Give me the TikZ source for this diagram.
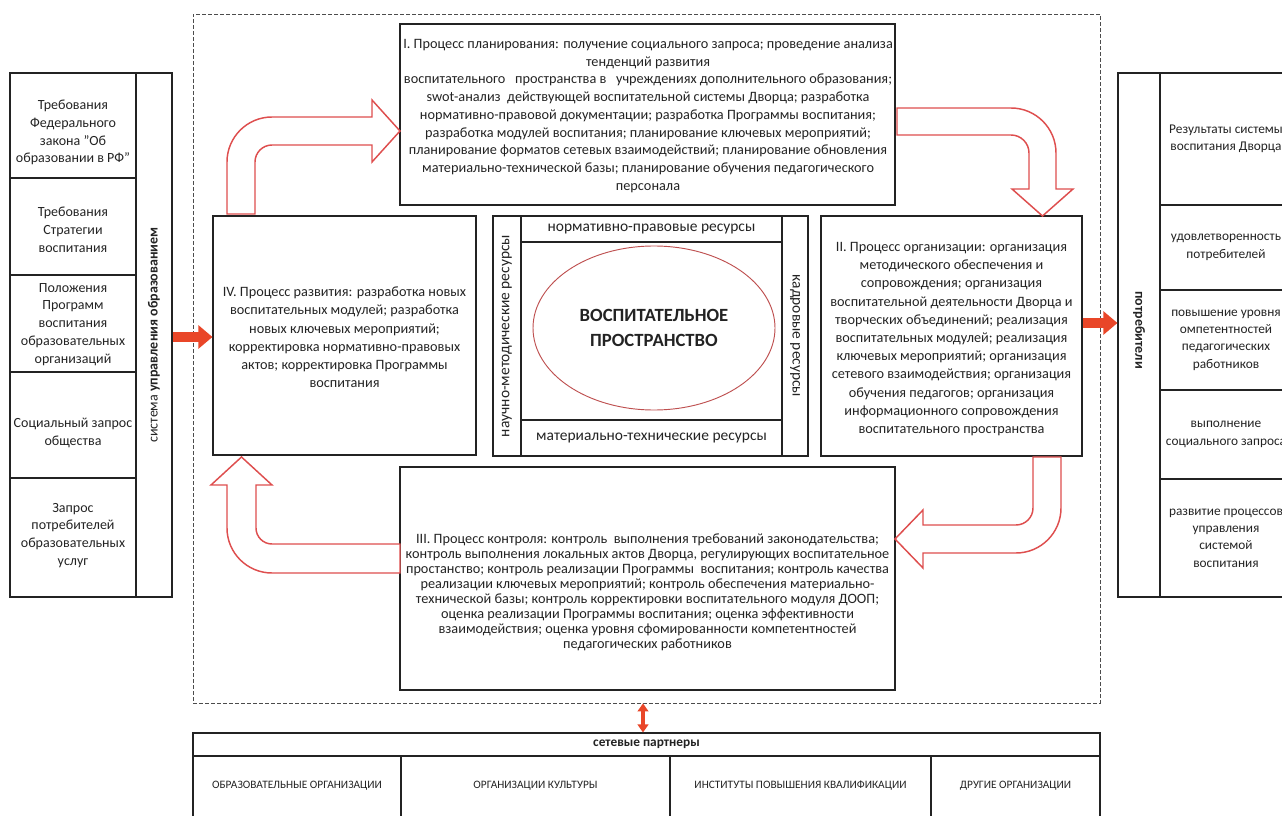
\documentclass[tikz,border=0pt]{standalone}
\usepackage{fontspec}
\setmainfont{Carlito}
\usetikzlibrary{arrows.meta,shapes.geometric}
\definecolor{arrred}{RGB}{222,78,78}
\definecolor{solidred}{RGB}{233,70,40}
\definecolor{ellred}{RGB}{190,80,80}
\definecolor{ink}{RGB}{35,35,35}
\tikzset{
  frame/.style={draw=ink, line width=0.8pt, rectangle, inner sep=0pt, align=center, text=ink},
  proctext/.style={align=center, inner sep=0pt, text=ink, font=\fontsize{10.7}{13.3}\selectfont},
  celltext/.style={align=center, inner sep=0pt, text=ink, font=\fontsize{10.5}{13.4}\selectfont},
  rcelltext/.style={align=center, inner sep=0pt, text=ink, font=\fontsize{10}{13}\selectfont},
  restext/.style={inner sep=0pt, text=ink, font=\fontsize{11.6}{13}\selectfont},
  parttext/.style={inner sep=0pt, text=ink, font=\fontsize{8.5}{9}\selectfont},
  bentarrow/.style={draw=arrred, line width=1.1pt, fill=white, line join=miter},
  solidarrow/.style={draw=solidred, line width=7.5pt, -{Triangle[length=10.5pt,width=17pt]}},
  dualarrow/.style={draw=solidred, line width=3pt, {Triangle[length=6pt,width=8pt]}-{Triangle[length=6pt,width=8pt]}},
}
\begin{document}
\begin{tikzpicture}[x=0.75pt,y=0.75pt]
\useasboundingbox (0,0) rectangle (1282,-816);
\clip (0,0) rectangle (1282,-816);

% outer dashed frame
\node[draw=black!70, dash pattern=on 3pt off 1.5pt, line width=0.6pt, inner sep=0pt,
      minimum width=680.25pt, minimum height=516.75pt] (outer) at (646.5,-358.5) {};

% ---------- left column ----------
\node[frame, minimum width=94.5pt, minimum height=78.75pt] (l1) at (73,-125.5) {};
\node[frame, minimum width=94.5pt, minimum height=72.75pt] (l2) at (73,-226.5) {};
\node[frame, minimum width=94.5pt, minimum height=72.75pt] (l3) at (73,-323.5) {};
\node[frame, minimum width=94.5pt, minimum height=79.5pt] (l4) at (73,-425) {};
\node[frame, minimum width=94.5pt, minimum height=89.25pt] (l5) at (73,-537.5) {};
\node[celltext] (l1t) at (73,-132.5) {Требования\\Федерального\\закона "Об\\образовании в РФ"};
\node[celltext] (l2t) at (73,-230) {Требования\\Стратегии\\воспитания};
\node[celltext] (l3t) at (73,-324.5) {Положения\\Программ\\воспитания\\образовательных\\организаций};
\node[celltext] (l4t) at (73,-433) {Социальный запрос\\общества};
\node[celltext] (l5t) at (73,-535.5) {Запрос\\потребителей\\образовательных\\услуг};
\node[frame, minimum width=27pt, minimum height=393pt] (lstrip) at (154,-335) {};
\node[rotate=90, inner sep=0pt, text=ink, font=\fontsize{10.5}{12}\selectfont] (ltitle) at (lstrip.center)
  {система \textbf{управления образованием}};

% ---------- right column ----------
\node[frame, minimum width=31.5pt, minimum height=393pt] (rstrip) at (1139,-335) {};
\node[rotate=-90, inner sep=0pt, text=ink, font=\bfseries\fontsize{10.5}{12}\selectfont] (rtitle) at (1139,-330)
  {потребители};
\node[frame, rcelltext, minimum width=99pt, minimum height=99pt] (r1) at (1226,-139)
  {Результаты системы\\воспитания Дворца};
\node[frame, rcelltext, minimum width=99pt, minimum height=63.75pt] (r2) at (1226,-247.5)
  {удовлетворенность\\потребителей};
\node[frame, rcelltext, minimum width=99pt, minimum height=75pt] (r3) at (1226,-340)
  {повышение уровня\\омпетентностей\\педагогических\\работников};
\node[frame, rcelltext, minimum width=99pt, minimum height=66.75pt] (r4) at (1226,-434.5)
  {выполнение\\социального запроса};
\node[frame, rcelltext, minimum width=99pt, minimum height=88.5pt] (r5) at (1226,-538)
  {развитие процессов\\управления\\системой\\воспитания};

% ---------- process boxes ----------
\node[frame, minimum width=371.25pt, minimum height=135.75pt] (p1) at (647.5,-114.5) {};
\node[proctext] (p1t) at (648,-116)
  {I. Процесс планирования: получение социального запроса; проведение анализа\\
   тенденций развития\\
   воспитательного \ \ пространства в \ \ учреждениях дополнительного образования;\\
   swot-анализ \ действующей воспитательной системы Дворца; разработка\\
   нормативно-правовой документации; разработка Программы воспитания;\\
   разработка модулей воспитания; планирование ключевых мероприятий;\\
   планирование форматов сетевых взаимодействий; планирование обновления\\
   материально-технической базы; планирование обучения педагогического\\
   персонала};

\node[frame, minimum width=195.75pt, minimum height=180pt] (p2) at (951.5,-336) {};
\node[proctext, font=\fontsize{10.7}{13.65}\selectfont] (p2t) at (951.5,-339)
  {II. Процесс организации: организация\\
   методического обеспечения и\\
   сопровождения; организация\\
   воспитательной деятельности Дворца и\\
   творческих объединений; реализация\\
   воспитательных модулей; реализация\\
   ключевых мероприятий; организация\\
   сетевого взаимодействия; организация\\
   обучения педагогов; организация\\
   информационного сопровождения\\
   воспитательного пространства};

\node[frame, minimum width=371.25pt, minimum height=167.25pt] (p3) at (647.5,-578.5) {};
\node[proctext, font=\fontsize{10.7}{11.25}\selectfont] (p3t) at (647.5,-592.5)
  {III. Процесс контроля: контроль \ выполнения требований законодательства;\\
   контроль выполнения локальных актов Дворца, регулирующих воспитательное\\
   простанство; контроль реализации Программы \ воспитания; контроль качества\\
   реализации ключевых мероприятий; контроль обеспечения материально-\\
   технической базы; контроль корректировки воспитательного модуля ДООП;\\
   оценка реализации Программы воспитания; оценка эффективности\\
   взаимодействия; оценка уровня сфомированности компетентностей\\
   педагогических работников};

\node[frame, minimum width=197.25pt, minimum height=179.25pt] (p4) at (344.5,-335.5) {};
\node[proctext, font=\fontsize{10.7}{13.7}\selectfont] (p4t) at (344.5,-337.5)
  {IV. Процесс развития: разработка новых\\
   воспитательных модулей; разработка\\
   новых ключевых мероприятий;\\
   корректировка нормативно-правовых\\
   актов; корректировка Программы\\
   воспитания};

% ---------- centre ----------
\node[frame, minimum width=236.25pt, minimum height=180pt] (cbox) at (650.5,-336) {};
\node[frame, minimum width=21pt, minimum height=180pt] (cleft) at (507,-336) {};
\node[frame, minimum width=19.5pt, minimum height=180pt] (cright) at (795,-336) {};
\node[frame, minimum width=195.75pt, minimum height=19.5pt] (ctop) at (651.5,-229) {};
\node[frame, minimum width=195.75pt, minimum height=27pt] (cbot) at (651.5,-438) {};
\node[restext] (ctopt) at (ctop.center) {нормативно-правовые ресурсы};
\node[restext] (cbott) at (cbot.center) {материально-технические ресурсы};
\node[restext, rotate=90] (cleftt) at (cleft.center) {научно-методические ресурсы};
\node[restext, rotate=-90] (crightt) at (cright.center) {кадровые ресурсы};
\node[ellipse, draw=ellred, line width=0.7pt, inner sep=0pt, minimum width=181.5pt, minimum height=123pt,
      align=center, text=ink, font=\bfseries\fontsize{14}{19}\selectfont] (space) at (654,-328)
  {ВОСПИТАТЕЛЬНОЕ\\ПРОСТРАНСТВО};

% ---------- bent arrows ----------
\draw[bentarrow] (227,-214) -- (227,-162) arc[start angle=180, end angle=90, radius=45] -- (372,-117)
  -- (372,-100) -- (400,-131) -- (372,-162) -- (372,-145) -- (272,-145)
  arc[start angle=90, end angle=180, radius=17] -- (255,-214) -- cycle;
\draw[bentarrow] (897,-108) -- (1011,-108) arc[start angle=90, end angle=0, radius=45] -- (1056,-189)
  -- (1073,-189) -- (1042.5,-216) -- (1012,-189) -- (1029,-189) -- (1029,-153)
  arc[start angle=0, end angle=90, radius=18] -- (897,-135) -- cycle;
\draw[bentarrow] (1061,-457) -- (1061,-508) arc[start angle=0, end angle=-90, radius=45] -- (923,-553)
  -- (923,-568) -- (895,-539) -- (923,-510) -- (923,-525) -- (1016,-525)
  arc[start angle=-90, end angle=0, radius=17] -- (1033,-457) -- cycle;
\draw[bentarrow] (400,-573) -- (272,-573) arc[start angle=270, end angle=180, radius=45] -- (227,-485)
  -- (211,-485) -- (241.5,-457) -- (272,-485) -- (256,-485) -- (256,-528)
  arc[start angle=180, end angle=270, radius=16] -- (400,-544) -- cycle;

% ---------- solid arrows ----------
\draw[solidarrow] (lstrip.east |- 0,-337) -- (p4.west |- 0,-337);
\draw[solidarrow] (p2.east |- 0,-323) -- (rstrip.west |- 0,-323);

% ---------- partners ----------
\node[frame, minimum width=680.25pt, minimum height=17.25pt, font=\bfseries\fontsize{10}{12}\selectfont] (partners) at (646.5,-744.5)
  {сетевые партнеры};
\node[frame, minimum width=156pt, minimum height=48pt] (c1) at (297,-788) {};
\node[frame, minimum width=201.75pt, minimum height=48pt] (c2) at (535.5,-788) {};
\node[frame, minimum width=195.75pt, minimum height=48pt] (c3) at (800.5,-788) {};
\node[frame, minimum width=126.75pt, minimum height=48pt] (c4) at (1015.5,-788) {};
\node[parttext] (c1t) at (297,-786) {ОБРАЗОВАТЕЛЬНЫЕ ОРГАНИЗАЦИИ};
\node[parttext] (c2t) at (535.5,-786) {ОРГАНИЗАЦИИ КУЛЬТУРЫ};
\node[parttext] (c3t) at (800.5,-786) {ИНСТИТУТЫ ПОВЫШЕНИЯ КВАЛИФИКАЦИИ};
\node[parttext] (c4t) at (1015.5,-786) {ДРУГИЕ ОРГАНИЗАЦИИ};
\draw[dualarrow] (outer.south -| 643,0) -- (partners.north -| 643,0);
\end{tikzpicture}
\end{document}
